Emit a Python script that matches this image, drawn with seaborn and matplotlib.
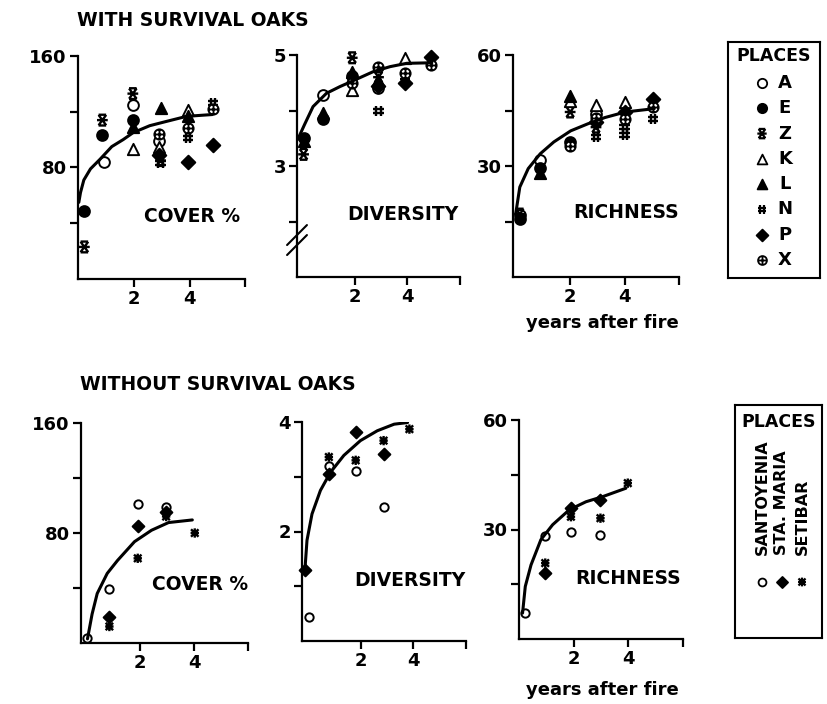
import matplotlib
matplotlib.use("Agg")
import matplotlib.pyplot as plt
from matplotlib.path import Path
import seaborn as sns

# ---------------- with surviving oaks ----------------
places_with = ["A", "E", "Z", "K", "L", "N", "P", "X"]

cover_w_place = ["A", "A", "A", "E", "E", "E", "Z", "Z", "Z", "Z", "K", "K", "K",
                 "L", "L", "L", "N", "N", "N", "P", "P", "P", "X", "X", "X"]
cover_w_year = [0.9, 1.95, 2.9, 0.2, 0.85, 1.95, 0.2, 0.85, 1.95, 2.95, 1.95, 2.9, 3.95,
                1.95, 2.95, 3.95, 2.95, 3.95, 4.85, 2.9, 3.95, 4.85, 2.9, 3.95, 4.85]
cover_w_val = [84, 125, 99, 49, 103, 114, 23, 114, 133, 85, 93, 95, 121,
               109, 123, 117, 83, 101, 126, 89, 84, 96, 104, 108, 122]
cover_w_fit_x = [0.0, 0.06, 0.18, 0.42, 0.77, 1.19, 1.6, 1.96, 2.56, 3.15, 3.75, 4.1, 4.82]
cover_w_fit_y = [55, 62, 71, 79, 86, 95, 100, 105, 110, 113, 116, 117, 118]

div_w_place = ["A", "A", "E", "E", "E", "Z", "Z", "Z", "K", "K", "L", "L", "L", "L",
               "N", "N", "P", "P", "P", "X", "X", "X", "X"]
div_w_year = [0.8, 2.9, 0.05, 0.8, 1.9, 0.05, 1.9, 2.9, 1.9, 3.9, 0.05, 0.8, 1.9, 2.9,
              2.9, 3.9, 2.9, 3.9, 4.9, 1.9, 2.9, 3.9, 4.9]
div_w_val = [4.28, 4.40, 3.51, 3.84, 4.63, 3.21, 4.95, 4.60, 4.37, 4.94, 3.45, 3.95, 4.70, 4.55,
             3.99, 4.60, 4.45, 4.49, 4.97, 4.49, 4.79, 4.67, 4.82]
div_w_fit_x = [-0.17, 0.09, 0.41, 0.92, 1.43, 2.0, 2.7, 3.34, 3.97, 4.93]
div_w_fit_y = [3.48, 3.75, 4.07, 4.31, 4.43, 4.55, 4.70, 4.79, 4.85, 4.86]

rich_w_place = ["A", "A", "A", "E", "E", "E", "Z", "Z", "Z", "K", "K", "K", "L", "L",
                "N", "N", "N", "N", "P", "P", "P", "X", "X", "X", "X"]
rich_w_year = [0.15, 0.9, 2.95, 0.15, 0.9, 2.0, 0.15, 2.0, 2.95, 2.0, 2.95, 4.0, 0.9, 2.0,
               2.95, 4.0, 4.0, 5.05, 2.95, 4.0, 5.05, 2.0, 2.95, 4.0, 5.05]
rich_w_val = [16.7, 31.5, 44.0, 15.8, 29.5, 36.5, 17.0, 44.6, 40.5, 47.7, 46.4, 47.3, 28.0, 49.0,
              37.8, 38.3, 40.5, 42.8, 41.9, 44.6, 48.2, 35.5, 43.0, 42.8, 45.9]
rich_w_fit_x = [0.0, 0.15, 0.46, 0.9, 1.4, 2.02, 2.65, 3.28, 4.03, 5.09]
rich_w_fit_y = [17.1, 24.3, 29.3, 33.3, 36.5, 39.5, 41.4, 43.1, 44.6, 45.5]

# ---------------- without surviving oaks ----------------
places_without = ["SANTOYENIA", "STA. MARIA", "SETIBAR"]

cover_n_place = ["SANTOYENIA"] * 4 + ["STA. MARIA"] * 3 + ["SETIBAR"] * 4
cover_n_year = [0.06, 0.87, 1.92, 2.97, 0.87, 1.92, 2.97, 0.87, 1.92, 2.97, 4.03]
cover_n_val = [4, 39, 101, 99, 19, 85, 95.6, 12, 61.6, 92, 80]
cover_n_fit_x = [0.06, 0.23, 0.42, 0.79, 1.17, 1.8, 2.43, 3.06, 3.94]
cover_n_fit_y = [3, 21, 36, 50.6, 60, 73.7, 82, 87.6, 89.5]

div_n_place = ["SANTOYENIA"] * 4 + ["STA. MARIA"] * 4 + ["SETIBAR"] * 4
div_n_year = [0.05, 0.79, 1.81, 2.87, -0.13, 0.79, 1.81, 2.87, 0.79, 1.81, 2.87, 3.85]
div_n_val = [0.43, 3.2, 3.11, 2.44, 1.3, 3.05, 3.81, 3.42, 3.36, 3.3, 3.66, 3.87]
div_n_fit_x = [-0.13, -0.04, 0.15, 0.47, 0.85, 1.36, 1.99, 2.63, 3.27, 3.78]
div_n_fit_y = [1.23, 1.84, 2.32, 2.75, 3.08, 3.39, 3.66, 3.84, 3.96, 3.99]

rich_n_place = ["SANTOYENIA"] * 4 + ["STA. MARIA"] * 3 + ["SETIBAR"] * 4
rich_n_year = [0.22, 0.96, 1.9, 2.98, 0.96, 1.9, 2.98, 0.96, 1.9, 2.98, 3.98]
rich_n_val = [7.1, 28.3, 29.2, 28.4, 18.0, 35.8, 38.1, 20.8, 33.5, 33.1, 42.7]
rich_n_fit_x = [0.13, 0.23, 0.44, 0.8, 1.23, 1.84, 2.45, 3.06, 3.91]
rich_n_fit_y = [7.1, 14.4, 20.3, 27.2, 31.3, 35.4, 37.6, 39.0, 41.3]

# ---------------- marker shapes ----------------
M, L = Path.MOVETO, Path.LINETO


def segments(pairs):
    verts, codes = [], []
    for a, b in pairs:
        verts += [a, b]
        codes += [M, L]
    return Path(verts, codes)


hourglass = segments([((-0.7, 1), (0.7, 1)), ((-0.7, -1), (0.7, -1)),
                      ((-0.7, 0.95), (0.7, -0.95)), ((0.7, 0.95), (-0.7, -0.95)),
                      ((-1, 0), (1, 0))])
hash_mark = segments([((-0.4, 1), (-0.4, -1)), ((0.4, 1), (0.4, -1)),
                      ((-1, 0.4), (1, 0.4)), ((-1, -0.4), (1, -0.4))])
ast_mark = segments([((0, 1), (0, -1)), ((-0.8, 0.8), (0.8, -0.8)),
                     ((0.8, 0.8), (-0.8, -0.8)), ((-0.9, 0), (0.9, 0))])
circ = Path.unit_circle()
oplus = Path.make_compound_path(circ, segments([((-1, 0), (1, 0)), ((0, 1), (0, -1))]))

# marker, face colour, size factor
style_with = {
    "A": ("o", "white", 1.0),
    "E": ("o", "black", 1.0),
    "Z": (hourglass, "none", 1.0),
    "K": ("^", "white", 1.1),
    "L": ("^", "black", 1.1),
    "N": (hash_mark, "none", 0.9),
    "P": ("D", "black", 0.8),
    "X": (oplus, "white", 0.9),
}
style_without = {
    "SANTOYENIA": ("o", "white", 0.8),
    "STA. MARIA": ("D", "black", 0.8),
    "SETIBAR": (ast_mark, "none", 1.0),
}

sns.set_theme(style="ticks")
plt.rcParams["font.family"] = ["DejaVu Sans"]
plt.rcParams["font.weight"] = "bold"
plt.rcParams["text.color"] = "black"

W, H = 828, 704
fig = plt.figure(figsize=(W / 100, H / 100), dpi=100)
fig.patch.set_facecolor("white")


def px_axes(left, right, top, bottom):
    return fig.add_axes([left / W, 1 - bottom / H, (right - left) / W, (bottom - top) / H])


def draw_panel(ax, places, styles, place, year, val, fx, fy, base_size):
    for p in places:
        xs = [x for x, q in zip(year, place) if q == p]
        ys = [y for y, q in zip(val, place) if q == p]
        if not xs:
            continue
        m, fc, k = styles[p]
        lw = 1.7 if fc == "none" else 1.4
        sns.scatterplot(x=xs, y=ys, ax=ax, marker=m, s=base_size * k,
                        color="black", facecolor=fc, edgecolor="black",
                        linewidth=lw, zorder=3, clip_on=False)
    sns.lineplot(x=fx, y=fy, ax=ax, color="black", linewidth=2.2,
                 sort=False, estimator=None, zorder=4)


def style_axes(ax, xlim, ylim, yticks, ylabels):
    ax.set_xlim(*xlim)
    ax.set_ylim(*ylim)
    ax.set_xticks([2, 4, 6])
    ax.set_xticklabels(["2", "4", ""])
    ax.set_yticks(yticks)
    ax.set_yticklabels(ylabels)
    ax.set_xlabel("")
    ax.set_ylabel("")
    for s in ("top", "right"):
        ax.spines[s].set_visible(False)
    for s in ("left", "bottom"):
        ax.spines[s].set_linewidth(1.6)
        ax.spines[s].set_color("black")
    ax.tick_params(direction="out", length=6, width=1.6, labelsize=13,
                   pad=2, colors="black", left=True, bottom=True)
    ax.set_facecolor("none")


# ---- top row ----
ax1 = px_axes(78, 245, 56, 279)
draw_panel(ax1, places_with, style_with, cover_w_place, cover_w_year, cover_w_val,
           cover_w_fit_x, cover_w_fit_y, 60)
style_axes(ax1, (-0.03, 6.0), (0, 160), [40, 80, 120, 160], ["", "80", "", "160"])

ax2 = px_axes(297, 460, 55, 277)
draw_panel(ax2, places_with, style_with, div_w_place, div_w_year, div_w_val,
           div_w_fit_x, div_w_fit_y, 60)
style_axes(ax2, (-0.2, 6.0), (1.0, 5.0), [2, 3, 4, 5], ["", "3", "", "5"])
for y0 in (0.099, 0.144):
    ax2.plot([-0.061, 0.061], [y0, y0 + 0.09], transform=ax2.transAxes,
             color="black", linewidth=1.5, clip_on=False, zorder=5)

ax3 = px_axes(513, 679, 55, 277)
draw_panel(ax3, places_with, style_with, rich_w_place, rich_w_year, rich_w_val,
           rich_w_fit_x, rich_w_fit_y, 60)
style_axes(ax3, (-0.1, 6.0), (0, 60), [15, 30, 45, 60], ["", "30", "", "60"])

# ---- bottom row ----
ax4 = px_axes(81, 248, 423, 643)
draw_panel(ax4, places_without, style_without, cover_n_place, cover_n_year, cover_n_val,
           cover_n_fit_x, cover_n_fit_y, 45)
style_axes(ax4, (-0.18, 6.0), (0, 160), [40, 80, 120, 160], ["", "80", "", "160"])

ax5 = px_axes(302, 466, 422, 641)
draw_panel(ax5, places_without, style_without, div_n_place, div_n_year, div_n_val,
           div_n_fit_x, div_n_fit_y, 45)
style_axes(ax5, (-0.23, 6.0), (0, 4), [1, 2, 3, 4], ["", "2", "", "4"])

ax6 = px_axes(519, 683, 420, 639)
draw_panel(ax6, places_without, style_without, rich_n_place, rich_n_year, rich_n_val,
           rich_n_fit_x, rich_n_fit_y, 45)
style_axes(ax6, (0.0, 6.0), (0, 60), [15, 30, 45, 60], ["", "30", "", "60"])

# ---- panel captions ----
def fig_text(x, y, s, **kw):
    fig.text(x / W, 1 - y / H, s, color="black", fontweight="bold", **kw)


fig_text(77, 20, "WITH SURVIVAL OAKS", fontsize=13.5, ha="left", va="center")
fig_text(80, 385, "WITHOUT SURVIVAL OAKS", fontsize=13.5, ha="left", va="center")
for (cx, cy), s in zip([(192, 216), (403, 214), (626, 212), (200, 584), (410, 581), (628, 579)],
                       ["COVER %", "DIVERSITY", "RICHNESS"] * 2):
    fig_text(cx, cy, s, fontsize=13.5, ha="center", va="center")
fig_text(602, 323, "years after fire", fontsize=13, ha="center", va="center")
fig_text(602, 690, "years after fire", fontsize=13, ha="center", va="center")

# ---- key boxes ----
def key_axes(left, right, top, bottom):
    ax = px_axes(left, right, top, bottom)
    ax.set_xlim(0, right - left)
    ax.set_ylim(bottom - top, 0)
    ax.set_xticks([])
    ax.set_yticks([])
    for s in ax.spines.values():
        s.set_visible(True)
        s.set_linewidth(1.5)
        s.set_color("black")
    return ax


k1 = key_axes(728, 820, 42, 278)
k1.text(46, 14, "PLACES", fontsize=12.5, ha="center", va="center",
        fontweight="bold", color="black")
for i, p in enumerate(places_with):
    yy = 41 + i * 25.3
    m, fc, k = style_with[p]
    lw = 1.6 if fc == "none" else 1.3
    sns.scatterplot(x=[34], y=[yy], ax=k1, marker=m, s=45 * k, color="black",
                    facecolor=fc, edgecolor="black", linewidth=lw)
    k1.text(57, yy, p, fontsize=13, ha="center", va="center",
            fontweight="bold", color="black")
k1.set_xlabel("")
k1.set_ylabel("")

k2 = key_axes(735, 822, 405, 638)
k2.text(44, 17, "PLACES", fontsize=12.5, ha="center", va="center",
        fontweight="bold", color="black")
for i, p in enumerate(places_without):
    xx = 27 + i * 20
    k2.text(xx, 150, p, fontsize=11.5, rotation=90, rotation_mode="anchor",
            ha="left", va="center", fontweight="bold", color="black")
    m, fc, k = style_without[p]
    lw = 1.6 if fc == "none" else 1.3
    sns.scatterplot(x=[xx], y=[177], ax=k2, marker=m, s=40 * k, color="black",
                    facecolor=fc, edgecolor="black", linewidth=lw)
k2.set_xlabel("")
k2.set_ylabel("")

fig.savefig("out.png", dpi=100, facecolor="white")
